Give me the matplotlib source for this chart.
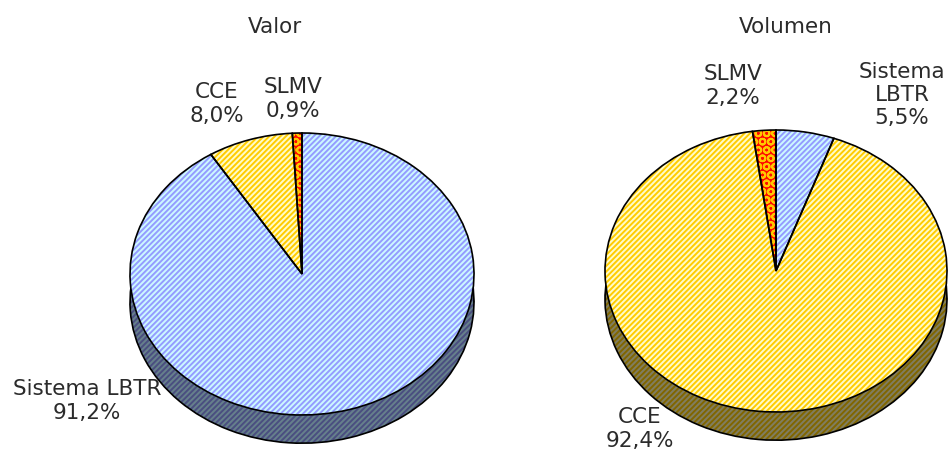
import matplotlib
matplotlib.use("Agg")
import matplotlib.pyplot as plt
from matplotlib.patches import Rectangle

titles = ["Valor", "Volumen"]
categories = ["Sistema LBTR", "CCE", "SLMV"]
valor = [91.2, 8.0, 0.9]
volumen = [5.5, 92.4, 2.2]

W, H = 948, 450
DEPTH = 0.2
BASE = ["#CCF8FF", "#FFFBC8", "#FF0A00"]
STRIPE = ["#949CFF", "#FFCC00", "#FFC800"]
DARK = ["#66808C", "#807D60", "#801500"]
DARK2 = ["#4A4E80", "#806600", "#601000"]
HATCH = ["//////", "//////", "OO"]
plt.rcParams["hatch.linewidth"] = 1.4

fig = plt.figure(figsize=(W / 100, H / 100), dpi=100, facecolor="white")


def draw(values, cx, cy, rx, ry, dom):
    ax = fig.add_axes([(cx - rx) / W, 1 - (cy + ry * (1 + DEPTH)) / H, 2 * rx / W, ry * (2 + DEPTH) / H])
    kw = dict(startangle=90, counterclock=False, normalize=False, radius=1)
    tot = sum(values)
    vals = [v / tot for v in values]
    # side wall
    ax.pie(vals, center=(0, -DEPTH), colors=[DARK[dom]] * 3,
           wedgeprops=dict(hatch="//////", edgecolor=DARK2[dom], linewidth=0), **kw)
    ax.add_patch(Rectangle((-1, -DEPTH), 2, DEPTH, facecolor=DARK[dom], edgecolor=DARK2[dom],
                           hatch="//////", linewidth=0, zorder=1))
    ax.pie(vals, center=(0, -DEPTH), colors=["none"] * 3,
           wedgeprops=dict(edgecolor="black", linewidth=1.2, zorder=1.5), **kw)
    ax.plot([-1, -1], [0, -DEPTH], color="black", lw=1.2, zorder=1.6)
    ax.plot([1, 1], [0, -DEPTH], color="black", lw=1.2, zorder=1.6)
    # top face
    w, _ = ax.pie(vals, colors=BASE, wedgeprops=dict(linewidth=0, zorder=2), **kw)
    for p, e, h in zip(w, STRIPE, HATCH):
        p.set_hatch(h)
        p.set_edgecolor(e)
        p.set_zorder(2)
    ax.pie(vals, colors=["none"] * 3, wedgeprops=dict(edgecolor="black", linewidth=1.2, zorder=3), **kw)
    ax.set_aspect("auto")
    ax.set_xlim(-1, 1)
    ax.set_ylim(-1 - DEPTH, 1)
    ax.axis("off")


draw(valor, 302, 274, 172, 141, 0)
draw(volumen, 776, 271, 171, 141, 1)


def label(x, y, s, **k):
    fig.text(x / W, 1 - y / H, s, ha="center", va="center", fontsize=15.5, color="#2b2b2b",
             family="DejaVu Sans", linespacing=1.2, zorder=10, **k)


label(275, 27, titles[0])
label(786, 27, titles[1])
label(217, 104, f"{categories[1]}\n{valor[1]:.1f}%".replace(".", ","))
label(293, 99, f"{categories[2]}\n{valor[2]:.1f}%".replace(".", ","))
label(87, 401, f"{categories[0]}\n{valor[0]:.1f}%".replace(".", ","))
label(733, 86, f"{categories[2]}\n{volumen[2]:.1f}%".replace(".", ","))
label(902, 95, f"Sistema\nLBTR\n{volumen[0]:.1f}%".replace(".", ","))
label(640, 429, f"{categories[1]}\n{volumen[1]:.1f}%".replace(".", ","))

fig.savefig("out.png", dpi=100)
